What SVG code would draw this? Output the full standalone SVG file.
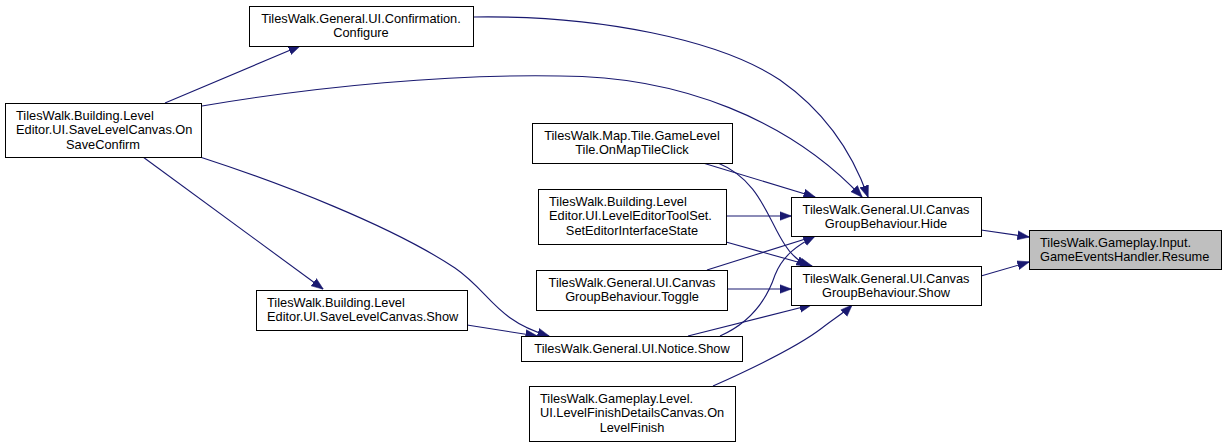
<svg xmlns="http://www.w3.org/2000/svg" width="1227" height="447" viewBox="0 0 1227 447">
<style>
.n rect{fill:#fff;stroke:#000;stroke-width:1}
.n.hl rect{fill:#bfbfbf}
text{font-family:"Liberation Sans",Arial,sans-serif;font-size:12.8px;fill:#000}
.c{text-anchor:middle}
.e path{fill:none;stroke:#191970;stroke-width:1.1;marker-end:url(#ah)}
</style>
<defs>
<marker id="ah" markerUnits="userSpaceOnUse" markerWidth="12" markerHeight="10" viewBox="0 0 12 9" refX="11.5" refY="4.5" orient="auto">
<path d="M0,0 L12,4.5 L0,9 z" fill="#191970" stroke="#191970" stroke-width="0.5"/>
</marker>
</defs>
<rect width="1227" height="447" fill="#fff"/>
<g id="edges" class="e">
<path d="M165,103 L300,46"/>
<path d="M202,106 C320,86 450,74 560,76 C680,76 790,120 862,197"/>
<path d="M473,17 C600,15 720,40 780,80 C830,115 855,160 868,197"/>
<path d="M143,157 L323,289"/>
<path d="M200,157 C280,183 390,225 455,268 C490,292 495,320 549,336"/>
<path d="M467,325 L537,336"/>
<path d="M703,163 L815,197"/>
<path d="M718,163 C760,180 768,220 785,245 C792,256 800,262 808,266"/>
<path d="M726,216 L791,216"/>
<path d="M726,242 L812,266"/>
<path d="M707,270 L815,236"/>
<path d="M727,289 L791,289"/>
<path d="M720,336 C745,325 765,305 775,275 C783,255 798,245 815,236"/>
<path d="M688,336 L811,305"/>
<path d="M713,386 C760,365 800,345 822,328 C835,318 845,312 852,305"/>
<path d="M981,230 L1029,237"/>
<path d="M981,276 L1029,262"/>
</g>
<g id="resume" class="n hl"><rect x="1029.5" y="230.5" width="192" height="39"/>
<text x="1040" y="246.5">TilesWalk.Gameplay.Input.</text><text x="1040" y="261">GameEventsHandler.Resume</text></g>
<g id="hide" class="n"><rect x="791.5" y="197.5" width="190" height="39"/>
<text class="c" x="886" y="213.5">TilesWalk.General.UI.Canvas</text><text class="c" x="886" y="228">GroupBehaviour.Hide</text></g>
<g id="cshow" class="n"><rect x="791.5" y="266.5" width="190" height="39"/>
<text class="c" x="886" y="282.5">TilesWalk.General.UI.Canvas</text><text class="c" x="886" y="297">GroupBehaviour.Show</text></g>
<g id="configure" class="n"><rect x="249.5" y="6.5" width="224" height="40"/>
<text class="c" x="361" y="22.5">TilesWalk.General.UI.Confirmation.</text><text class="c" x="361" y="37">Configure</text></g>
<g id="onsaveconfirm" class="n"><rect x="5.5" y="103.5" width="196" height="54"/>
<text x="16" y="119.5">TilesWalk.Building.Level</text><text x="16" y="134">Editor.UI.SaveLevelCanvas.On</text><text class="c" x="103" y="148.5">SaveConfirm</text></g>
<g id="onmaptileclick" class="n"><rect x="532.5" y="123.5" width="200" height="40"/>
<text class="c" x="632" y="139.5">TilesWalk.Map.Tile.GameLevel</text><text class="c" x="632" y="154">Tile.OnMapTileClick</text></g>
<g id="seteditorinterfacestate" class="n"><rect x="538.5" y="189.5" width="188" height="55"/>
<text x="549" y="205.5">TilesWalk.Building.Level</text><text x="549" y="220">Editor.UI.LevelEditorToolSet.</text><text class="c" x="632" y="234.5">SetEditorInterfaceState</text></g>
<g id="toggle" class="n"><rect x="536.5" y="270.5" width="191" height="40"/>
<text class="c" x="632" y="286.5">TilesWalk.General.UI.Canvas</text><text class="c" x="632" y="301">GroupBehaviour.Toggle</text></g>
<g id="noticeshow" class="n"><rect x="521.5" y="336.5" width="221" height="25"/>
<text class="c" x="632" y="352.5">TilesWalk.General.UI.Notice.Show</text></g>
<g id="onlevelfinish" class="n"><rect x="529.5" y="386.5" width="206" height="55"/>
<text x="540" y="402.5">TilesWalk.Gameplay.Level.</text><text x="540" y="417">UI.LevelFinishDetailsCanvas.On</text><text class="c" x="632" y="431.5">LevelFinish</text></g>
<g id="savelevelcanvasshow" class="n"><rect x="256.5" y="290.5" width="211" height="40"/>
<text x="267" y="306.5">TilesWalk.Building.Level</text><text x="267" y="321">Editor.UI.SaveLevelCanvas.Show</text></g>
</svg>
